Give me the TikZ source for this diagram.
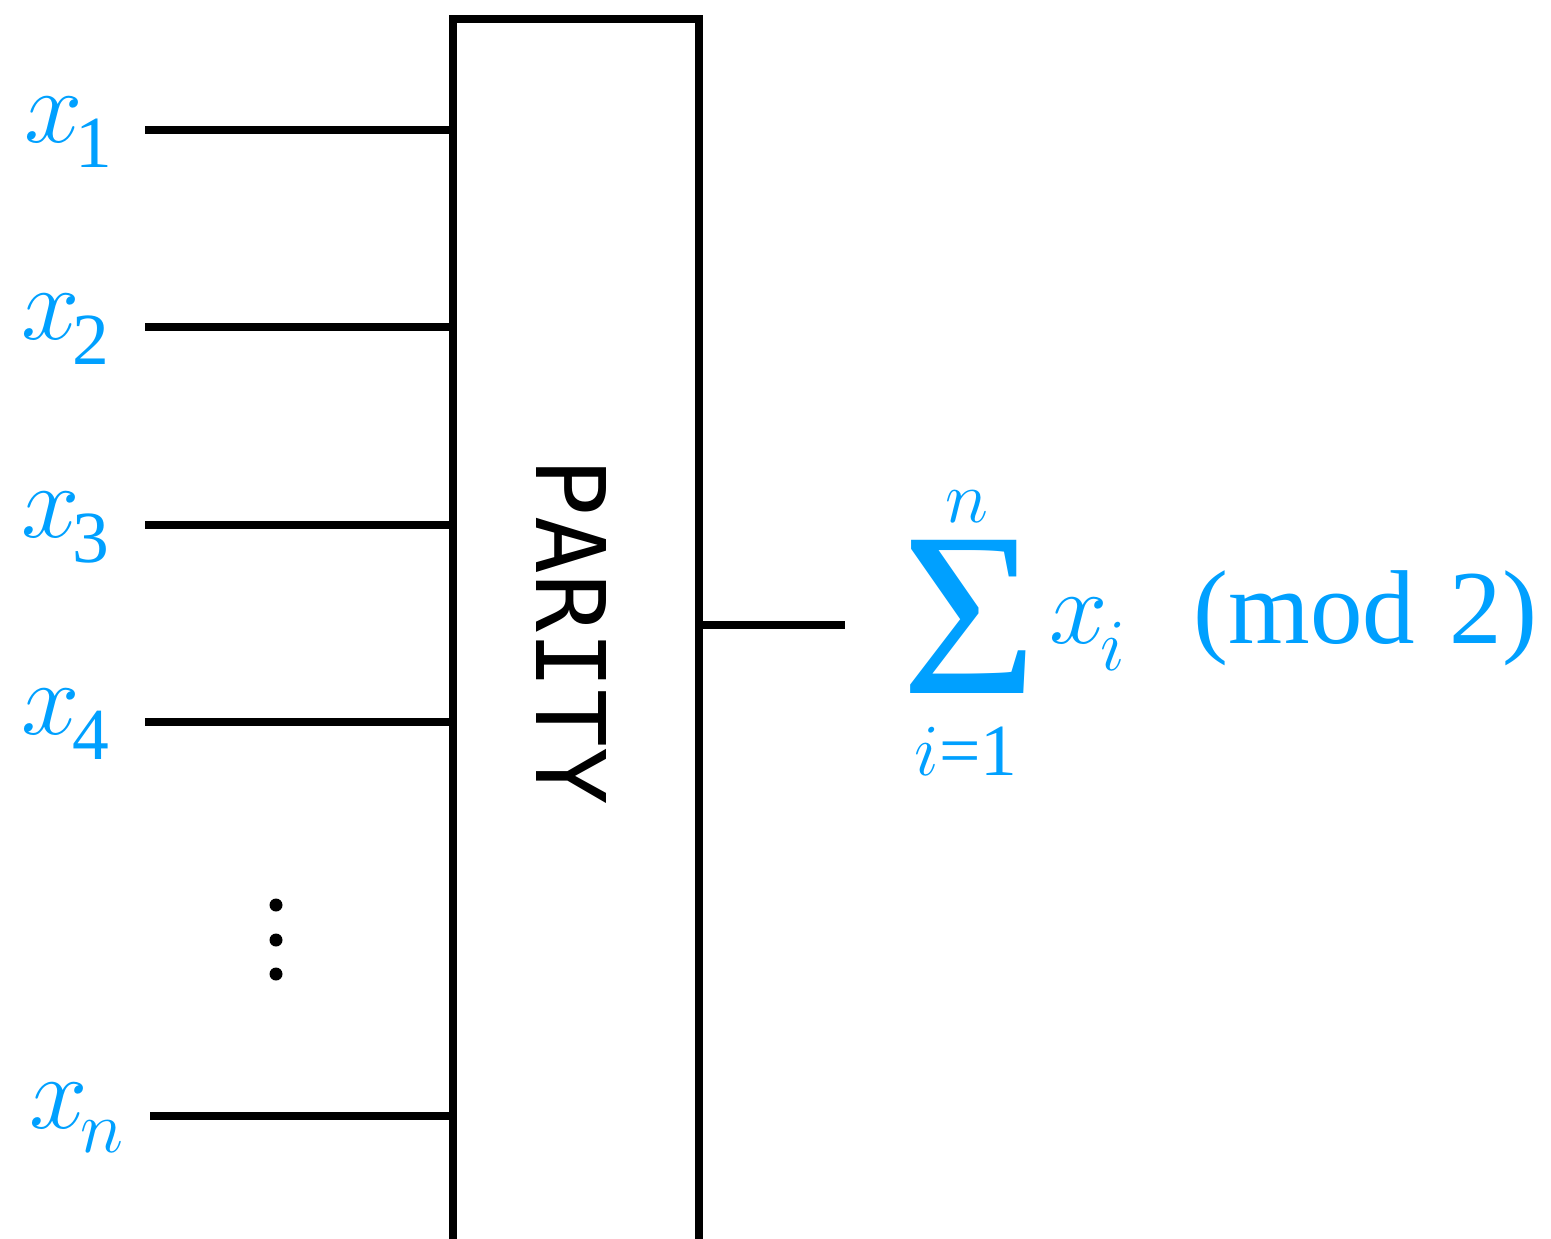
\RequirePackage{fix-cm}
\documentclass[tikz,border=0pt]{standalone}
\usepackage{graphicx}
\usepackage{fontspec}
\setmainfont{Liberation Serif}
\newfontfamily\monofam{DejaVu Sans Mono}
\definecolor{labelblue}{RGB}{0,160,255}
\tikzset{
  wire/.style={line width=3.75pt, black},
  lab/.style={text=labelblue, inner sep=0pt, anchor=base west, font=\fontsize{52.5pt}{60pt}\selectfont},
  lims/.style={text=labelblue, inner sep=0pt, anchor=base, font=\fontsize{36.75pt}{40pt}\selectfont},
  dotmark/.style={fill=black},
}
\newcommand\subx[2]{$x$\kern-3.5pt\raisebox{#1}{\fontsize{36.75pt}{40pt}\selectfont #2}}
\begin{document}
\begin{tikzpicture}[x=0.5pt,y=-0.5pt]
\useasboundingbox (0,0) rectangle (1551,1238);
\clip (0,0) rectangle (1551,1238);
% gate box
\node[draw, line width=3.75pt, minimum width=123pt, minimum height=614pt, inner sep=0pt] (box) at (576,633) {};
\node[rotate=-90, inner sep=0pt, font=\monofam\fontsize{48pt}{50pt}\selectfont] (parity) at (571.5,632) {PARITY};
% inputs
\coordinate (s1) at (145,130);
\coordinate (s2) at (145,327);
\coordinate (s3) at (145,525);
\coordinate (s4) at (145,722);
\coordinate (sn) at (150,1116);
\draw[wire] (s1) -- (s1 -| box.west);
\draw[wire] (s2) -- (s2 -| box.west);
\draw[wire] (s3) -- (s3 -| box.west);
\draw[wire] (s4) -- (s4 -| box.west);
\draw[wire] (sn) -- (sn -| box.west);
\node[lab] (l1) at (24,142) {\subx{-12.5pt}{1}};
\node[lab] (l2) at (21,339.5) {\subx{-12.5pt}{2}};
\node[lab] (l3) at (21,537) {\subx{-12.5pt}{3}};
\node[lab] (l4) at (21,734.5) {\subx{-12.5pt}{4}};
\node[lab] (ln) at (29,1128) {\subx{-12pt}{$n$}};
% vertical dots
\fill[dotmark] (276,905) circle[radius=3.25pt];
\fill[dotmark] (276,940) circle[radius=3.25pt];
\fill[dotmark] (276,974) circle[radius=3.25pt];
% output
\coordinate (out) at (845,625);
\draw[wire] (box.east |- out) -- (out);
\node[text=labelblue, inner sep=0pt, anchor=base west, font=\fontsize{117pt}{120pt}\selectfont] (sigma) at (901,693) {\symbol{"03A3}};
\node[lims] (upper) at (967,522) {$n$};
\node[lims] (lower) at (966,775) {$i$=1};
\node[lab] (xi) at (1049,643) {\subx{-13.5pt}{$i$}};
\node[lab] (mod) at (1193,643) {(mod\hspace{0.33em}2)};
\end{tikzpicture}
\end{document}
